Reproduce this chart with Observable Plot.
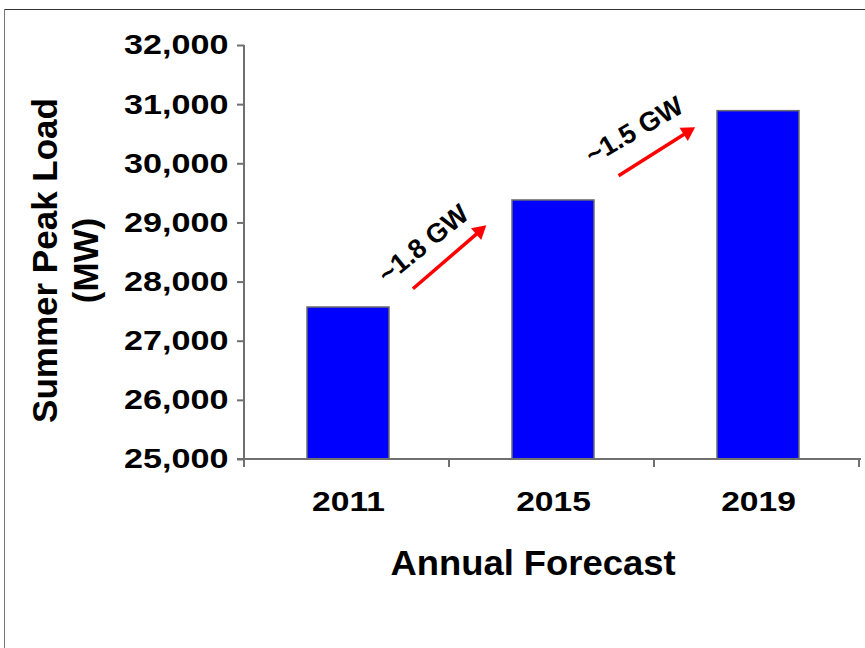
<!DOCTYPE html>
<html>
<head>
<meta charset="utf-8">
<script src="https://cdn.jsdelivr.net/npm/d3@7"></script>
<script src="https://cdn.jsdelivr.net/npm/@observablehq/plot@0.6"></script>
<style>
  html, body { margin: 0; padding: 0; background: #fff; }
  #wrap { position: relative; width: 865px; height: 648px; overflow: hidden; }
  #wrap svg { position: absolute; left: 0; top: 0; }
  .bt { position: absolute; left: 4px; top: 9px; width: 861px; height: 0; border-top: 1.5px solid #333; }
  .bl { position: absolute; left: 4px; top: 9px; width: 0; height: 639px; border-left: 1.5px solid #777; }
</style>
</head>
<body>
<div id="wrap"><div class="bt"></div><div class="bl"></div></div>
<script>
const years = ["2011", "2015", "2019"];
const peakLoad = [27570, 29380, 30890];
const yTicks = [25000, 26000, 27000, 28000, 29000, 30000, 31000, 32000];
const baseLoad = 25000;
const yLabel = "Summer Peak Load\n(MW)";
const xLabel = "Annual Forecast";

// annotations (x category, MW level, pixel offsets)
const arrowFrom = ["2011", "2015"];
const arrowTo = ["2015", "2019"];
const arrowStartMW = [26950, 29102];
const arrowEndMW = [29932, 31295];
const arrowInsetStart = [85, 77];
const arrowInsetEnd = [101, 87];
const headMW = [28862, 30538];
const headDx = [-74, -71];
const headAngle = [49, 58];
const gainLabels = ["~1.8 GW", "~1.5 GW"];
const gainAt = ["2011", "2015"];
const gainMW = [28640, 30560];
const gainDx = [75, 81];
const gainAngle = [-39, -30];

const data = years.map((y, i) => ({year: y, load: peakLoad[i], base: baseLoad}));

const FONT = "'Liberation Sans', Arial, Helvetica, sans-serif";
const marks = [
  Plot.barY(data, {x: "year", y1: "base", y2: "load", fill: "#0000ff", stroke: "#6e6e6e", strokeWidth: 1.5}),
  Plot.axisY({ticks: yTicks, tickFormat: d3.format(","), tickSize: 7, tickPadding: 9, stroke: "#707070", strokeWidth: 2, fontSize: 28, fontWeight: "bold", fill: "#000", label: null}),
  Plot.axisX({tickSize: 0, tickPadding: 32, fontSize: 28, fontWeight: "bold", fill: "#000", label: null}),
  Plot.text([yLabel], {frameAnchor: "left", textAnchor: "middle", lineAnchor: "middle", dx: -180, dy: 8, rotate: -90, fontSize: 35, fontWeight: "bold", lineHeight: 1.15, fill: "#000"}),
  Plot.text([xLabel], {frameAnchor: "bottom", lineAnchor: "middle", dx: -20, dy: 104, fontSize: 35, fontWeight: "bold", fill: "#000"})
];
gainLabels.forEach((_, i) => {
  marks.push(Plot.arrow([0], {x1: () => arrowFrom[i], x2: () => arrowTo[i], y1: () => arrowStartMW[i], y2: () => arrowEndMW[i],
    insetStart: arrowInsetStart[i], insetEnd: arrowInsetEnd[i], headLength: 0, stroke: "#ff0000", strokeWidth: 3.5, strokeLinecap: "butt"}));
  marks.push(Plot.dot([0], {x: () => arrowTo[i], y: () => headMW[i], dx: headDx[i], symbol: "triangle", r: 5.8, rotate: headAngle[i], fill: "#ff0000", stroke: "none"}));
  marks.push(Plot.text([gainLabels[i]], {x: () => gainAt[i], y: () => gainMW[i], dx: gainDx[i], rotate: gainAngle[i], fontSize: 27, fontWeight: "bold", fill: "#000"}));
});

const chart = Plot.plot({
  width: 865, height: 648,
  marginLeft: 244, marginRight: 4, marginTop: 45, marginBottom: 189,
  style: {fontFamily: FONT, background: "transparent", color: "#000"},
  x: {domain: years, paddingInner: 0.6, paddingOuter: 0.3, label: null},
  y: {domain: [25000, 32000], label: null},
  marks
});

// axis lines and category boundary ticks from the library's scales
const xs = chart.scale("x"), ys = chart.scale("y");
const svg = d3.select(chart);
const x0 = xs.range[0], x1 = xs.range[1];
const yTop = Math.min(...ys.range), yBot = Math.max(...ys.range);
const g = svg.append("g").attr("stroke", "#707070").attr("stroke-width", 2);
g.append("line").attr("x1", x0).attr("x2", x0).attr("y1", yTop).attr("y2", yBot);
g.append("line").attr("x1", x0 - 7).attr("x2", x1).attr("y1", yBot).attr("y2", yBot);
for (let k = 0; k <= years.length; k++) {
  const xp = x0 + k * xs.step;
  g.append("line").attr("x1", xp).attr("x2", xp).attr("y1", yBot).attr("y2", yBot + 8);
}

// horizontal widening of the axis tick labels (reference text is stretched)
function widen(sel, s) {
  sel.each(function () {
    const t = d3.select(this);
    const tr = t.attr("transform");
    if (tr) t.attr("transform", `${tr} scale(${s},1)`);
  });
}
widen(svg.selectAll('g[aria-label="y-axis tick label"] text'), 1.22);
widen(svg.selectAll('g[aria-label="x-axis tick label"] text'), 1.2);
widen(svg.selectAll('g[aria-label="text"] text').filter(function () { return this.textContent === xLabel; }), 1.04);

document.getElementById("wrap").prepend(chart);
</script>
</body>
</html>
